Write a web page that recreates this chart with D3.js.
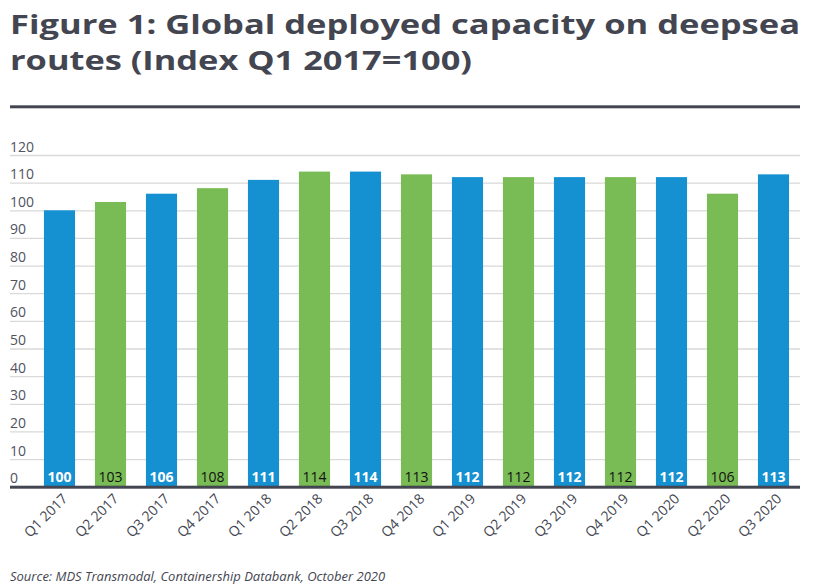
<!DOCTYPE html>
<html>
<head>
<meta charset="utf-8">
<script src="https://cdn.jsdelivr.net/npm/d3@7"></script>
<style>
  body { margin: 0; background: #fff; }
  svg { display: block; }
</style>
</head>
<body>
<svg width="813" height="586"></svg>
<script>
// chart data
var quarters = ['Q1 2017', 'Q2 2017', 'Q3 2017', 'Q4 2017', 'Q1 2018', 'Q2 2018', 'Q3 2018', 'Q4 2018',
  'Q1 2019', 'Q2 2019', 'Q3 2019', 'Q4 2019', 'Q1 2020', 'Q2 2020', 'Q3 2020'];
var capacityIndex = [100, 103, 106, 108, 111, 114, 114, 113, 112, 112, 112, 112, 112, 106, 113];
var yTicks = [0, 10, 20, 30, 40, 50, 60, 70, 80, 90, 100, 110, 120];

var blue = '#1591d2', green = '#79bb55', ink = '#434651';

var svg = d3.select('svg');

// title
var title = svg.append('text')
  .attr('font-family', 'Open Sans, sans-serif')
  .attr('font-weight', 'bold')
  .attr('font-size', 27.5)
  .attr('fill', ink);
title.append('tspan').attr('x', 10).attr('y', 33.5)
  .attr('textLength', 790).attr('lengthAdjust', 'spacingAndGlyphs')
  .text('Figure 1: Global deployed capacity on deepsea');
title.append('tspan').attr('x', 10).attr('y', 69.5)
  .attr('textLength', 462).attr('lengthAdjust', 'spacingAndGlyphs')
  .text('routes (Index Q1 2017=100)');

svg.append('rect')
  .attr('x', 10).attr('y', 105.3).attr('width', 790).attr('height', 3)
  .attr('fill', ink);

// scales
var x = d3.scaleBand()
  .domain(quarters)
  .range([34, 799])
  .paddingInner(0.39)
  .paddingOuter(0.195);

var y = d3.scaleLinear()
  .domain([0, 120])
  .range([486.7, 155]);

// gridlines
var gy = svg.append('g')
  .attr('transform', 'translate(800,0)')
  .call(d3.axisLeft(y).tickValues(yTicks).tickSize(790).tickFormat(''));
gy.select('.domain').remove();
gy.selectAll('.tick line').attr('stroke', '#d9d9d9').attr('stroke-width', 1.3);

// y labels sit above their gridline
svg.append('g').selectAll('text')
  .data(yTicks)
  .enter()
  .append('text')
  .attr('x', 10)
  .attr('y', function(d) { return y(d) - 3.5; })
  .attr('font-family', 'Open Sans, sans-serif')
  .attr('font-size', 14)
  .attr('fill', '#50535f')
  .text(function(d) { return d; });

// bars
svg.append('g').selectAll('.bar')
  .data(capacityIndex)
  .enter()
  .append('rect')
  .attr('class', 'bar')
  .attr('x', function(d, i) { return x(quarters[i]); })
  .attr('y', function(d) { return y(d); })
  .attr('width', x.bandwidth())
  .attr('height', function(d) { return y(0) - y(d); })
  .attr('fill', function(d, i) { return i % 2 ? green : blue; });

// value labels
svg.append('g').selectAll('.val')
  .data(capacityIndex)
  .enter()
  .append('text')
  .attr('class', 'val')
  .attr('x', function(d, i) { return x(quarters[i]) + x.bandwidth() / 2; })
  .attr('y', 481.5)
  .attr('text-anchor', 'middle')
  .attr('font-family', 'Open Sans, sans-serif')
  .attr('font-size', 14)
  .attr('font-weight', function(d, i) { return i % 2 ? 'normal' : 'bold'; })
  .attr('fill', function(d, i) { return i % 2 ? '#111' : '#fff'; })
  .text(function(d) { return d; });

// x axis baseline
svg.append('rect')
  .attr('x', 10).attr('y', y(0) - 1).attr('width', 790).attr('height', 3)
  .attr('fill', ink);

// x labels
var gx = svg.append('g')
  .attr('transform', 'translate(0,' + y(0) + ')')
  .call(d3.axisBottom(x).tickSize(0));
gx.select('.domain').remove();
gx.selectAll('text')
  .attr('x', 0).attr('y', 0).attr('dy', 0)
  .attr('font-family', 'Open Sans, sans-serif')
  .attr('font-size', 14)
  .attr('fill', ink)
  .attr('text-anchor', 'end')
  .attr('transform', 'translate(9,13) rotate(-45)');

// source
svg.append('text')
  .attr('x', 10).attr('y', 581)
  .attr('font-family', 'Open Sans, sans-serif')
  .attr('font-style', 'italic')
  .attr('font-size', 13)
  .attr('fill', ink)
  .text('Source: MDS Transmodal, Containership Databank, October 2020');
</script>
</body>
</html>
